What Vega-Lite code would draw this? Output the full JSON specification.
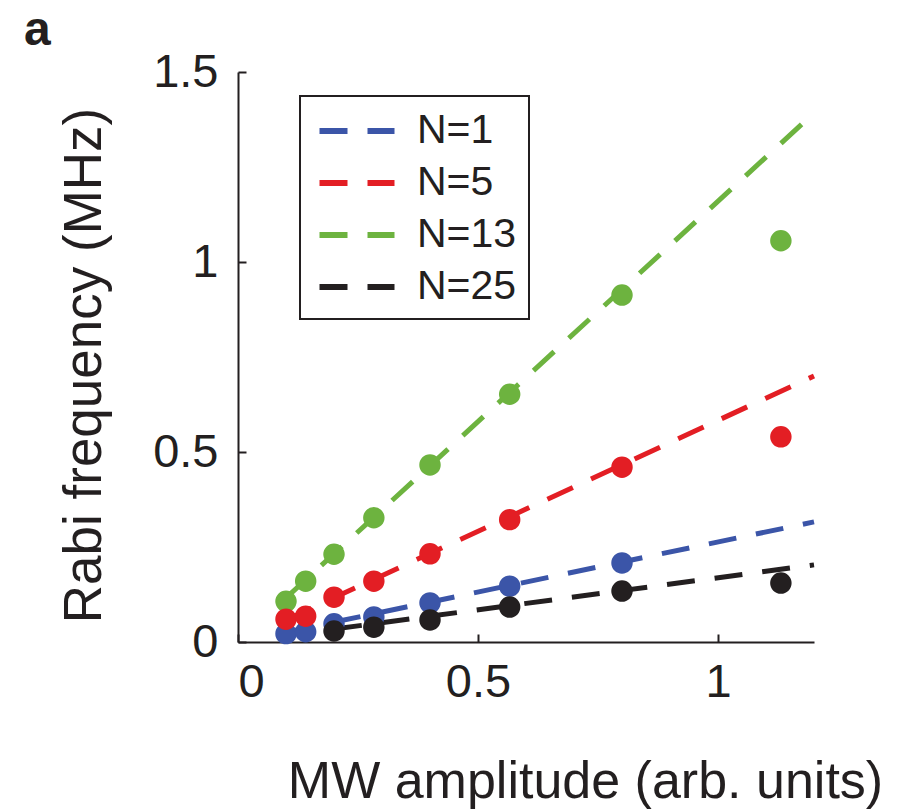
{
  "$schema": "https://vega.github.io/schema/vega-lite/v6.json",
  "autosize": {"type": "none"},
  "width": 576,
  "height": 570,
  "padding": {"left": 238, "top": 72, "right": 88, "bottom": 167},
  "background": "white",
  "title": {"text": "a", "anchor": "start", "frame": "group", "fontSize": 48, "fontWeight": "bold", "font": "Liberation Sans", "color": "#231f20", "dx": -214, "offset": 0, "dy": 45, "baseline": "alphabetic"},
  "config": {
    "view": {"stroke": null},
    "font": "Liberation Sans",
    "axis": {"grid": false, "domainColor": "#231f20", "domainWidth": 2, "tickColor": "#231f20", "tickWidth": 2, "tickSize": -8, "labelFontSize": 47, "labelColor": "#231f20", "titleFontWeight": "normal", "titleColor": "#231f20", "labelFont": "Liberation Sans", "titleFont": "Liberation Sans"},
    "legend": {"strokeColor": "#231f20", "strokeWidth": 2, "fillColor": "white", "padding": 12, "labelFontSize": 41, "labelColor": "#231f20", "labelFont": "Liberation Sans"}
  },
  "datasets": {
    "pts": [
      {"x": 0.1, "y": 0.107, "N": "N=13"},
      {"x": 0.141, "y": 0.16, "N": "N=13"},
      {"x": 0.2, "y": 0.231, "N": "N=13"},
      {"x": 0.283, "y": 0.327, "N": "N=13"},
      {"x": 0.4, "y": 0.466, "N": "N=13"},
      {"x": 0.566, "y": 0.652, "N": "N=13"},
      {"x": 0.8, "y": 0.913, "N": "N=13"},
      {"x": 1.131, "y": 1.056, "N": "N=13"},
      {"x": 0.1, "y": 0.022, "N": "N=1"},
      {"x": 0.141, "y": 0.027, "N": "N=1"},
      {"x": 0.2, "y": 0.048, "N": "N=1"},
      {"x": 0.283, "y": 0.066, "N": "N=1"},
      {"x": 0.4, "y": 0.103, "N": "N=1"},
      {"x": 0.566, "y": 0.147, "N": "N=1"},
      {"x": 0.8, "y": 0.208, "N": "N=1"},
      {"x": 0.1, "y": 0.06, "N": "N=5"},
      {"x": 0.141, "y": 0.068, "N": "N=5"},
      {"x": 0.2, "y": 0.118, "N": "N=5"},
      {"x": 0.283, "y": 0.16, "N": "N=5"},
      {"x": 0.4, "y": 0.232, "N": "N=5"},
      {"x": 0.566, "y": 0.322, "N": "N=5"},
      {"x": 0.8, "y": 0.46, "N": "N=5"},
      {"x": 1.131, "y": 0.54, "N": "N=5"},
      {"x": 0.2, "y": 0.029, "N": "N=25"},
      {"x": 0.283, "y": 0.039, "N": "N=25"},
      {"x": 0.4, "y": 0.058, "N": "N=25"},
      {"x": 0.566, "y": 0.092, "N": "N=25"},
      {"x": 0.8, "y": 0.134, "N": "N=25"},
      {"x": 1.131, "y": 0.155, "N": "N=25"}
    ],
    "fits": [
      {"x": 0.1, "y": 0.116, "N": "N=13"},
      {"x": 1.2, "y": 1.392, "N": "N=13"},
      {"x": 0.1, "y": 0.026, "N": "N=1"},
      {"x": 1.2, "y": 0.316, "N": "N=1"},
      {"x": 0.1, "y": 0.058, "N": "N=5"},
      {"x": 1.2, "y": 0.7, "N": "N=5"},
      {"x": 0.2, "y": 0.034, "N": "N=25"},
      {"x": 1.2, "y": 0.203, "N": "N=25"}
    ]
  },
  "layer": [
    {
      "data": {"name": "fits"},
      "mark": {"type": "line", "strokeDash": [28, 20], "strokeWidth": 5, "strokeCap": "butt"},
      "encoding": {
        "x": {"field": "x", "type": "quantitative", "scale": {"domain": [0, 1.2], "nice": false}, "axis": {"values": [0, 0.5, 1], "format": "~g", "title": "MW amplitude (arb. units)", "titleFontSize": 52, "labelPadding": 25, "titleX": 347, "titleY": 155, "titleBaseline": "alphabetic", "titleAnchor": "middle"}},
        "y": {"field": "y", "type": "quantitative", "scale": {"domain": [0, 1.5], "nice": false}, "axis": {"values": [0, 0.5, 1, 1.5], "format": "~g", "title": "Rabi frequency (MHz)", "titleFontSize": 53, "labelPadding": 28, "titleX": -138, "titleY": 293, "titleBaseline": "alphabetic", "titleAnchor": "middle", "titleAngle": -90}},
        "color": {"field": "N", "type": "nominal", "scale": {"domain": ["N=1", "N=5", "N=13", "N=25"], "range": ["#3b55a8", "#e31e24", "#6db33f", "#231f20"]}, "legend": {"title": null, "orient": "none", "legendX": 62, "legendY": 24, "symbolType": "M-1.875,0H1.875", "symbolDash": [28, 20], "symbolStrokeWidth": 6, "symbolSize": 1600, "symbolOffset": 22, "rowPadding": 9, "labelOffset": 37}}
      }
    },
    {
      "data": {"name": "pts"},
      "mark": {"type": "circle", "size": 460, "opacity": 1},
      "encoding": {
        "x": {"field": "x", "type": "quantitative"},
        "y": {"field": "y", "type": "quantitative"},
        "color": {"field": "N", "type": "nominal", "legend": null}
      }
    }
  ]
}
